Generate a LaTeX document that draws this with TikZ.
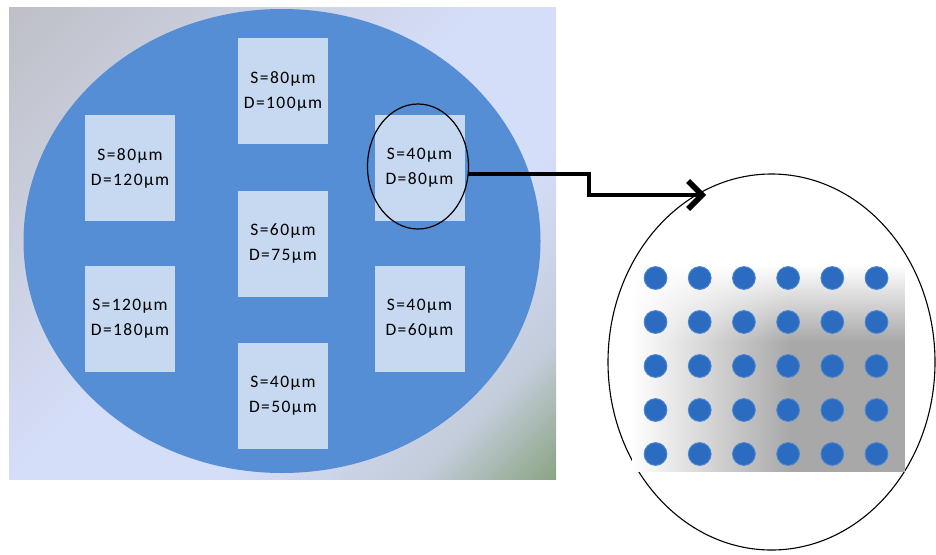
\documentclass[tikz,border=0pt]{standalone}
\usepackage{fontspec}
\setmainfont{Carlito}[LetterSpace=8]
\usetikzlibrary{arrows.meta,fadings,shapes.geometric}

\definecolor{bgA}{HTML}{BEBFC5}
\definecolor{bgM}{HTML}{CBD0E0}
\definecolor{bgB}{HTML}{D5DEF9}
\definecolor{bgE}{HTML}{C3CCDA}
\definecolor{bgC}{HTML}{87A27F}
\definecolor{waferblue}{HTML}{558ED5}
\definecolor{dieblue}{HTML}{C6D9F1}
\definecolor{plategray}{HTML}{A8A8A8}
\definecolor{dotblue}{HTML}{2B6CC1}
\definecolor{dotrim}{HTML}{4A86D2}

% diagonal backdrop: grey top-left, pale blue in the middle, green bottom-right
\pgfdeclarehorizontalshading{backdrop}{100bp}{%
  color(0bp)=(bgA); color(14bp)=(bgA); color(32bp)=(bgM);
  color(48bp)=(bgB); color(62bp)=(bgB); color(76bp)=(bgE);
  color(86bp)=(bgC); color(100bp)=(bgC)}

\tikzfading[name=whiteleft, left color=transparent!0, right color=transparent!100]
\tikzfading[name=whitetop, top color=transparent!0, bottom color=transparent!100]

\tikzset{
  wafer/.style={ellipse, fill=waferblue, inner sep=0pt, outer sep=0pt,
    minimum width=517pt, minimum height=464pt},
  die/.style={rectangle, fill=dieblue, inner sep=0pt, outer sep=0pt,
    minimum width=90pt, minimum height=106pt, align=center,
    font=\fontsize{17.5}{25}\selectfont, text=black},
  lens/.style={ellipse, draw=black, line width=1.2pt, inner sep=0pt,
    outer sep=0pt, minimum width=101pt, minimum height=125pt},
  zoomview/.style={ellipse, draw=black, line width=1.1pt, inner sep=0pt,
    outer sep=0pt, minimum width=327pt, minimum height=376pt},
  bump/.style={fill=dotblue, draw=dotrim, line width=0.9pt},
  pointer/.style={line width=4pt, line join=miter,
    -{Straight Barb[length=14pt, width=28pt, line width=5.5pt]}}
}

\begin{document}
\begin{tikzpicture}[x=1pt, y=-1pt]
\useasboundingbox (0,0) rectangle (936,554);

% backdrop and wafer
\shade[shading=backdrop, shading angle=-45] (9,7) rectangle (556,479);
\node[wafer] (wafer) at (282,241) {};

% test dies
\node[die] (dtop)  at (283,91)    {S=80µm\\D=100µm};
\node[die] (dlup)  at (130,168)   {S=80µm\\D=120µm};
\node[die] (drup)  at (419.5,168) {S=40µm\\D=80µm};
\node[die] (dmid)  at (283,243.5) {S=60µm\\D=75µm};
\node[die] (dllo)  at (130,319)   {S=120µm\\D=180µm};
\node[die] (drlo)  at (419.5,319) {S=40µm\\D=60µm};
\node[die] (dbot)  at (283,396)   {S=40µm\\D=50µm};

% selected die and magnified view
\node[lens] (sel) at (418,166.5) {};
\node[zoomview] (view) at (771.5,362) {};

% bump array on its substrate
\fill[plategray] (632,265) rectangle (905,472);
\fill[white, path fading=whiteleft] (632,265) rectangle (792,472);
\fill[white, path fading=whitetop] (632,265) rectangle (905,342);
\foreach \i in {0,...,5}
  \foreach \j in {0,...,4}
    \filldraw[bump] (655.5+44.2*\i, 278+44*\j) circle (11.4pt);

% pointer from the selected die to the magnified view
\coordinate (bend) at (589,195);
\coordinate (tip) at (706,195);
\draw[pointer] (sel.-9.6) -| (bend) -- (tip);
\end{tikzpicture}
\end{document}
